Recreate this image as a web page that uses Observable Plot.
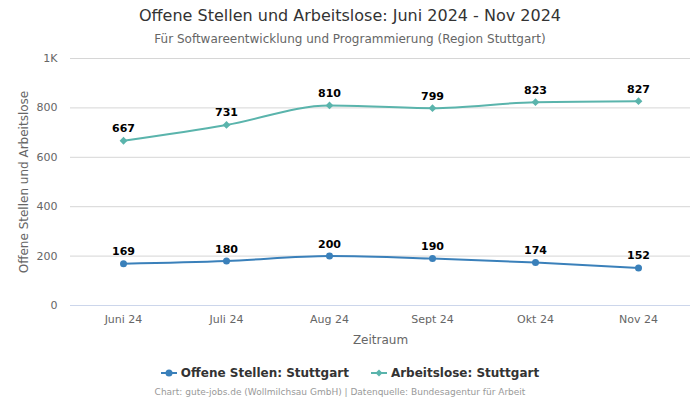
<!DOCTYPE html>
<html><head><meta charset="utf-8">
<script src="https://cdn.jsdelivr.net/npm/d3@7"></script>
<script src="https://cdn.jsdelivr.net/npm/@observablehq/plot@0.6"></script>
<style>
body{margin:0;background:#fff;}
#wrap{position:relative;width:700px;height:400px;font-family:"DejaVu Sans",sans-serif;}
#title{position:absolute;top:6px;left:0;width:700px;text-align:center;font-size:16px;color:#333;}
#sub{position:absolute;top:32px;left:0;width:700px;text-align:center;font-size:12px;color:#666;}
#chart{position:absolute;top:45px;left:0;}
#legend{position:absolute;top:366px;left:0;width:700px;display:flex;justify-content:center;gap:22px;font-family:"DejaVu Sans",sans-serif;font-weight:bold;font-size:12px;color:#333;}
#legend span{display:flex;align-items:center;gap:4px;}
#cap{position:absolute;top:387px;left:0;width:680px;text-align:center;font-size:9px;color:#999;}
</style></head>
<body><div id="wrap">
<div id="title">Offene Stellen und Arbeitslose: Juni 2024 - Nov 2024</div>
<div id="sub">Für Softwareentwicklung und Programmierung (Region Stuttgart)</div>
<div id="chart"></div>
<div id="legend">
<span><svg width="16" height="10"><line x1="0" y1="5" x2="16" y2="5" stroke="#3a80ba" stroke-width="2"/><circle cx="8" cy="5" r="3.5" fill="#3a80ba"/></svg>Offene Stellen: Stuttgart</span>
<span><svg width="16" height="10"><line x1="0" y1="5" x2="16" y2="5" stroke="#5ab4ac" stroke-width="2"/><path d="M8 1.5 L11.5 5 L8 8.5 L4.5 5 Z" fill="#5ab4ac"/></svg>Arbeitslose: Stuttgart</span>
</div>
<div id="cap">Chart: gute-jobs.de (Wollmilchsau GmbH) | Datenquelle: Bundesagentur für Arbeit</div>
</div>
<script>
const months = ["Juni 24","Juli 24","Aug 24","Sept 24","Okt 24","Nov 24"];
const offeneStellen = [169,180,200,190,174,152];
const arbeitslose = [667,731,810,799,823,827];
const yTicks = [0,200,400,600,800,1000];

const blue = "#3a80ba", teal = "#5ab4ac";
const os = months.map((m,i)=>({m, v:offeneStellen[i]}));
const al = months.map((m,i)=>({m, v:arbeitslose[i]}));

const chart = Plot.plot({
  width:700, height:310,
  marginLeft:70, marginRight:10, marginTop:13, marginBottom:50,
  style:{fontFamily:"DejaVu Sans, sans-serif", fontSize:"11px", color:"#666", background:"transparent"},
  x:{type:"point", domain:months, padding:0.5},
  y:{domain:[0,1000]},
  marks:[
    Plot.gridY(yTicks.filter(d=>d>0), {stroke:"#d6d6d6", strokeOpacity:1}),
    Plot.ruleY([0], {stroke:"#ccd6eb"}),
    Plot.axisY({ticks:yTicks, tickSize:0, tickPadding:13, tickFormat:d=>d===1000?"1K":d, fontSize:11, label:null}),
    Plot.axisY({ticks:[], tickSize:0, label:"Offene Stellen und Arbeitslose", labelAnchor:"center", labelArrow:"none", labelOffset:51, fontSize:12}),
    Plot.axisX({tickSize:0, tickPadding:10, fontSize:11, label:null}),
    Plot.axisX({ticks:[], tickSize:0, label:"Zeitraum", labelAnchor:"center", labelArrow:"none", labelOffset:38, fontSize:12}),
    Plot.line(al, {x:"m", y:"v", stroke:teal, strokeWidth:2, curve:"monotone-x"}),
    Plot.dot(al, {x:"m", y:"v", fill:teal, symbol:"diamond2", r:3.5}),
    Plot.line(os, {x:"m", y:"v", stroke:blue, strokeWidth:2, curve:"monotone-x"}),
    Plot.dot(os, {x:"m", y:"v", fill:blue, symbol:"circle", r:3.5}),
    Plot.text(al, {x:"m", y:"v", text:"v", dy:-12, fontWeight:"bold", fontSize:11, fill:"#000", fontFamily:"DejaVu Sans, sans-serif"}),
    Plot.text(os, {x:"m", y:"v", text:"v", dy:-12, fontWeight:"bold", fontSize:11, fill:"#000", fontFamily:"DejaVu Sans, sans-serif"})
  ]
});
document.getElementById("chart").appendChild(chart);
</script>
</body></html>
